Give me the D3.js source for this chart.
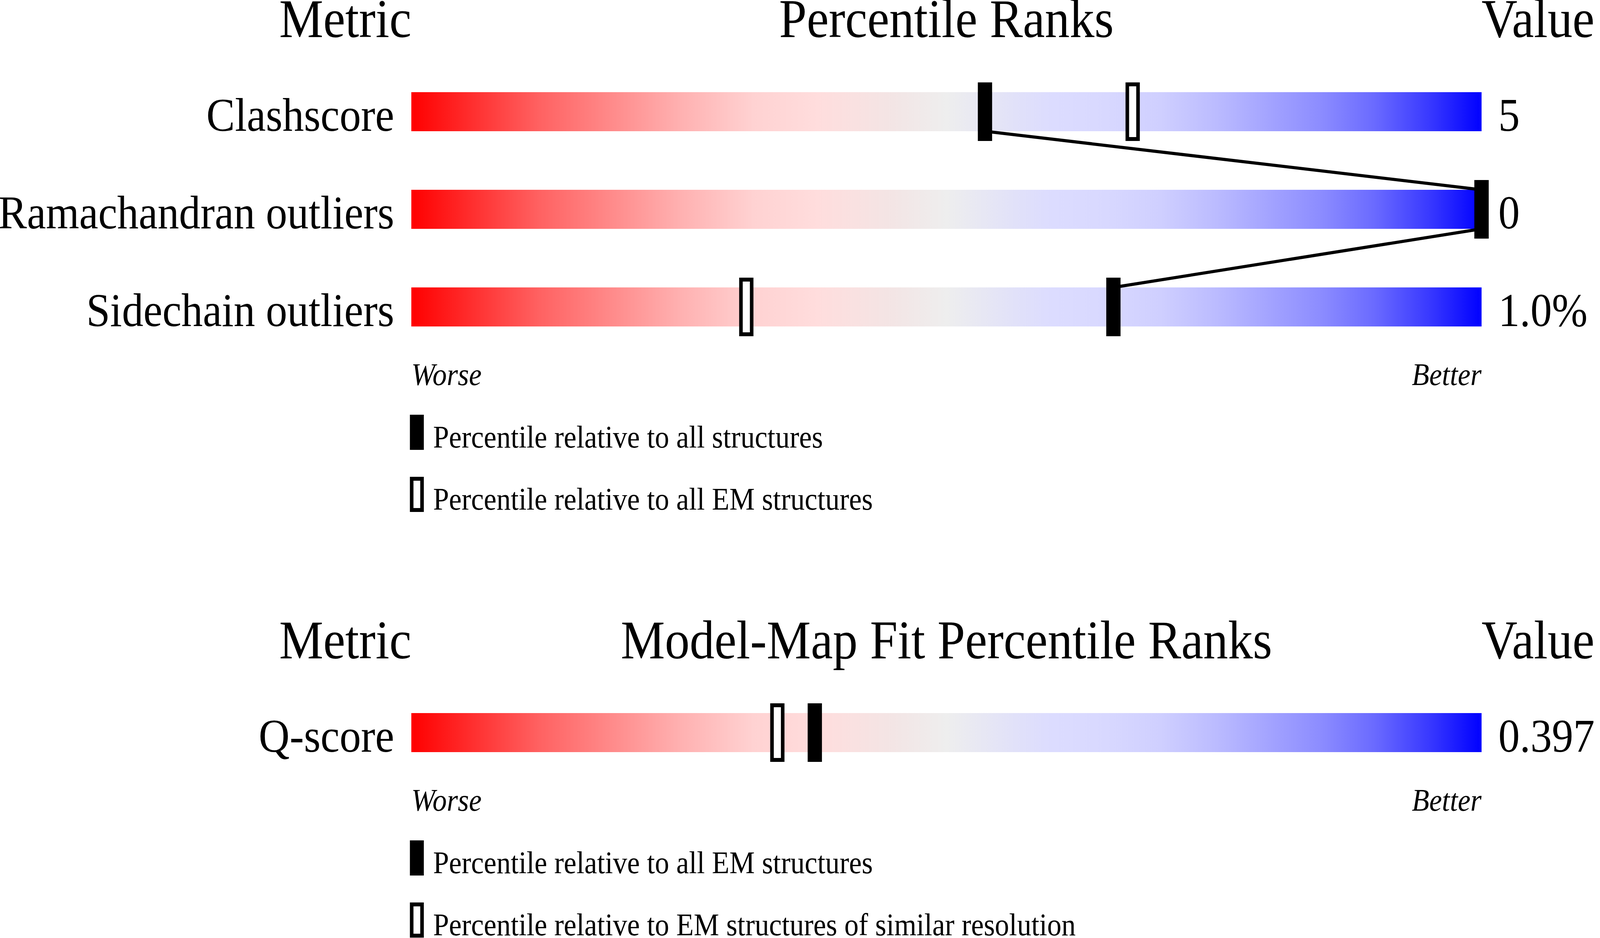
<!DOCTYPE html>
<html>
<head>
<meta charset="utf-8">
<script src="https://cdn.jsdelivr.net/npm/d3@7"></script>
<style>
    html, body { margin: 0; padding: 0; overflow: hidden; background: #ffffff; }
    svg { display: block; }
</style>
</head>
<body>
<div id="chart"></div>
<script>
// Validation metrics (top panel)
const metrics = ["Clashscore", "Ramachandran outliers", "Sidechain outliers"];
const pctAll = [53.6, 100, 65.6];   // percentile relative to all structures
const pctEM = [67.4, 100, 31.3];    // percentile relative to all EM structures
const metricValues = ["5", "0", "1.0%"];
const legendTop = ["Percentile relative to all structures", "Percentile relative to all EM structures"];

// Model-map fit (bottom panel)
const fitMetrics = ["Q-score"];
const fitPctAll = [37.7];           // percentile relative to all EM structures
const fitPctRes = [34.2];           // percentile relative to EM structures of similar resolution
const fitValues = ["0.397"];
const legendBottom = ["Percentile relative to all EM structures", "Percentile relative to EM structures of similar resolution"];

// Slider colours, worse -> better
const gradientStops = [
    [0, "#ff0000"], [0.12, "#ff6262"], [0.25, "#ffb0b0"], [0.32, "#ffd2d2"],
    [0.38, "#ffdddd"], [0.45, "#f3e5e5"], [0.5, "#eeeeee"], [0.57, "#e0e0fa"],
    [0.6, "#dcdcff"], [0.65, "#d8d8ff"], [0.7, "#cfcfff"], [0.75, "#bcbcff"],
    [0.8, "#a4a4ff"], [0.85, "#8c8cff"], [0.9, "#6a6aff"], [0.95, "#3a3aff"],
    [1, "#0000ff"]
];

const width = 4485;
const height = 2402;
const font = "'Liberation Serif', 'Times New Roman', serif";

// Drawn in a fixed 4485x2402 space, scaled to whatever the window is
const svg = d3.select("#chart")
    .append("svg")
    .attr("viewBox", `0 0 ${width} ${height}`)
    .attr("preserveAspectRatio", "none")
    .style("width", "100vw")
    .style("height", "100vh");

svg.append("rect")
    .attr("width", width)
    .attr("height", height)
    .attr("fill", "#ffffff");

const grad = svg.append("defs")
    .append("linearGradient")
    .attr("id", "slider")
    .attr("x1", "0%").attr("x2", "100%")
    .attr("y1", "0%").attr("y2", "0%");

grad.selectAll("stop")
    .data(gradientStops)
    .enter()
    .append("stop")
    .attr("offset", d => d[0])
    .attr("stop-color", d => d[1]);

// Percentile -> x, shared by both panels
const x = d3.scaleLinear().domain([0, 100]).range([1153, 4153]);
const rowStep = 250;
const barH = 100;

drawPanel({
    title: "Percentile Ranks",
    headerY: 95,
    top: 236,
    rows: metrics,
    all: pctAll,
    other: pctEM,
    values: metricValues,
    legend: legendTop,
    connect: true
});

drawPanel({
    title: "Model-Map Fit Percentile Ranks",
    headerY: 1686,
    top: 1826,
    rows: fitMetrics,
    all: fitPctAll,
    other: fitPctRes,
    values: fitValues,
    legend: legendBottom,
    connect: false
});

function drawPanel(p) {
    const g = svg.append("g");
    const [x0, x1] = x.range();

    // one band per metric, bar sits at the top of its band
    const y = d3.scaleBand()
        .domain(p.rows)
        .range([p.top, p.top + rowStep * p.rows.length])
        .padding(0);
    const base = y(p.rows[p.rows.length - 1]) + barH;

    // Column headers
    const headers = [
        { text: "Metric", x: x0, anchor: "end" },
        { text: p.title, x: (x0 + x1) / 2, anchor: "middle" },
        { text: "Value", x: x1, anchor: "start" }
    ];
    g.selectAll(".header")
        .data(headers)
        .enter()
        .append("text")
        .attr("x", d => d.x)
        .attr("y", p.headerY)
        .attr("text-anchor", d => d.anchor)
        .style("font-family", font)
        .style("font-size", "139px")
        .style("fill", "#000")
        .text(d => d.text);

    // Gradient bars
    g.selectAll(".bar")
        .data(p.rows)
        .enter()
        .append("rect")
        .attr("x", x0)
        .attr("y", d => y(d))
        .attr("width", x1 - x0)
        .attr("height", barH)
        .attr("fill", "url(#slider)");

    // Metric names
    g.selectAll(".label")
        .data(p.rows)
        .enter()
        .append("text")
        .attr("x", x0 - 48)
        .attr("y", d => y(d) + barH - 1)
        .attr("text-anchor", "end")
        .style("font-family", font)
        .style("font-size", "120px")
        .text(d => d);

    // Values
    g.selectAll(".value")
        .data(p.values)
        .enter()
        .append("text")
        .attr("x", x1 + 47)
        .attr("y", (d, i) => y(p.rows[i]) + barH - 1)
        .style("font-family", font)
        .style("font-size", "120px")
        .text(d => d);

    // Lines between the solid markers
    if (p.connect) {
        const pairs = d3.pairs(p.rows.map((r, i) => ({ r, v: p.all[i] })));
        g.selectAll(".link")
            .data(pairs)
            .enter()
            .append("line")
            .attr("x1", d => x(d[0].v))
            .attr("y1", d => y(d[0].r) + barH)
            .attr("x2", d => x(d[1].v))
            .attr("y2", d => y(d[1].r))
            .style("stroke", "#000")
            .style("stroke-width", 8);
    }

    // Open markers
    g.selectAll(".open")
        .data(p.other)
        .enter()
        .append("rect")
        .attr("x", d => x(d) - 15)
        .attr("y", (d, i) => y(p.rows[i]) - 20)
        .attr("width", 30)
        .attr("height", barH + 40)
        .style("fill", "#fff")
        .style("stroke", "#000")
        .style("stroke-width", 10);

    // Solid markers
    g.selectAll(".solid")
        .data(p.all)
        .enter()
        .append("rect")
        .attr("x", d => x(d) - 20)
        .attr("y", (d, i) => y(p.rows[i]) - 25)
        .attr("width", 40)
        .attr("height", barH + 50)
        .style("fill", "#000");

    // Worse / Better
    g.append("text")
        .attr("x", x0)
        .attr("y", base + 150)
        .style("font-family", font)
        .style("font-style", "italic")
        .style("font-size", "80px")
        .text("Worse");
    g.append("text")
        .attr("x", x1)
        .attr("y", base + 150)
        .attr("text-anchor", "end")
        .style("font-family", font)
        .style("font-style", "italic")
        .style("font-size", "80px")
        .text("Better");

    // Legend
    const leg = g.selectAll(".legend")
        .data(p.legend)
        .enter()
        .append("g")
        .attr("transform", (d, i) => `translate(${x0},${base + 226 + i * 159})`);

    leg.append("rect")
        .attr("x", (d, i) => i === 0 ? -4 : 1)
        .attr("y", (d, i) => i === 0 ? 0 : 5)
        .attr("width", (d, i) => i === 0 ? 39 : 29)
        .attr("height", (d, i) => i === 0 ? 90 : 80)
        .style("fill", (d, i) => i === 0 ? "#000" : "#fff")
        .style("stroke", (d, i) => i === 0 ? "none" : "#000")
        .style("stroke-width", 10);

    leg.append("text")
        .attr("x", 61)
        .attr("y", 84)
        .style("font-family", font)
        .style("font-size", "80px")
        .text(d => d);
}
</script>
</body>
</html>
